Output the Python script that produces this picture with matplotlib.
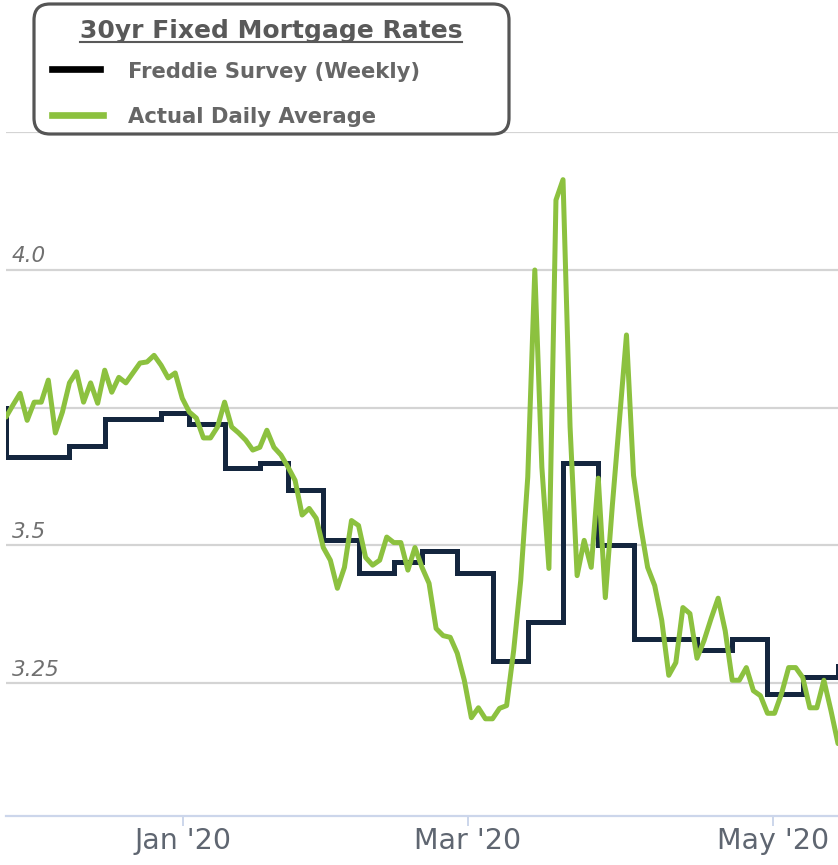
import matplotlib
matplotlib.use("Agg")
import matplotlib.pyplot as plt
from matplotlib.patches import FancyBboxPatch
from matplotlib.lines import Line2D
from matplotlib.transforms import IdentityTransform

# ---------------- data ----------------
# Actual daily average (one value per business day, Nov 2019 - mid May 2020)
daily_rate = [
    3.733, 3.755, 3.776, 3.727, 3.760, 3.760, 3.800, 3.704, 3.742, 3.795,
    3.815, 3.760, 3.795, 3.758, 3.818, 3.778, 3.805, 3.795, 3.813, 3.831,
    3.833, 3.845, 3.827, 3.804, 3.813, 3.767, 3.742, 3.731, 3.695, 3.695,
    3.715, 3.760, 3.715, 3.704, 3.691, 3.673, 3.678, 3.709, 3.678, 3.664,
    3.642, 3.618, 3.555, 3.567, 3.549, 3.496, 3.473, 3.422, 3.460, 3.545,
    3.536, 3.478, 3.464, 3.473, 3.515, 3.505, 3.505, 3.455, 3.496, 3.460,
    3.431, 3.349, 3.336, 3.333, 3.304, 3.255, 3.187, 3.205, 3.185, 3.185,
    3.204, 3.209, 3.309, 3.436, 3.624, 4.000, 3.642, 3.458, 4.127, 4.164,
    3.715, 3.445, 3.509, 3.460, 3.622, 3.405, 3.573, 3.727, 3.882, 3.627,
    3.536, 3.460, 3.427, 3.364, 3.264, 3.287, 3.387, 3.376, 3.295, 3.327,
    3.367, 3.404, 3.345, 3.255, 3.255, 3.278, 3.236, 3.227, 3.195, 3.195,
    3.231, 3.278, 3.278, 3.260, 3.205, 3.205, 3.255, 3.200, 3.140,
]

# Freddie Mac weekly survey: business-day index where each weekly value starts
freddie_idx = [-1, 0, 9, 14, 22, 26, 31, 36, 40, 45, 50, 55, 59, 64, 69, 74,
               79, 84, 89, 98, 103, 108, 113, 118]
freddie_rate = [3.75, 3.66, 3.68, 3.73, 3.74, 3.72, 3.64, 3.65, 3.60, 3.51,
                3.45, 3.47, 3.49, 3.45, 3.29, 3.36, 3.65, 3.50, 3.33, 3.31,
                3.33, 3.23, 3.26, 3.28]

tick_pos = [25.1, 65.5, 108.8]
tick_labels = ["Jan '20", "Mar '20", "May '20"]
grid_levels = [3.25, 3.5, 3.75, 4.0, 4.25]
label_levels = [4.0, 3.5, 3.25]
label_texts = ["4.0", "3.5", "3.25"]

title_text = "30yr Fixed Mortgage Rates"
series_names = ["Freddie Survey (Weekly)", "Actual Daily Average"]

GREEN = "#8cc13f"
NAVY = "#14263e"

# ---------------- figure ----------------
W, H = 838, 865
fig = plt.figure(figsize=(W / 100, H / 100), dpi=100)
ax_top_px, ax_bot_px, ax_left_px = 132.3, 816, 6
ax = fig.add_axes([ax_left_px / W, (H - ax_bot_px) / H,
                   (W - ax_left_px) / W, (ax_bot_px - ax_top_px) / H])

xs = list(range(len(daily_rate)))
ax.step(freddie_idx, freddie_rate, where="post", color=NAVY, lw=3.6,
        solid_joinstyle="miter", zorder=2)
ax.plot(xs, daily_rate, color=GREEN, lw=3.6, solid_joinstyle="round",
        solid_capstyle="round", zorder=3)

ax.set_xlim(0, len(daily_rate) - 1)
ax.set_ylim(3.0085, 4.25)

ax.set_yticks(grid_levels)
ax.yaxis.grid(True, color="#d4d4d4", lw=1.6)
ax.tick_params(axis="y", length=0, labelleft=False)
ax.set_axisbelow(True)

for s in ["top", "left", "right"]:
    ax.spines[s].set_visible(False)
ax.spines["bottom"].set_color("#ccd6eb")
ax.spines["bottom"].set_linewidth(1.6)

ax.set_xticks(tick_pos)
ax.set_xticklabels(tick_labels)
ax.tick_params(axis="x", length=10 * 0.72, width=1.4, color="#ccd6eb",
               labelsize=20.5, labelcolor="#5f6671", pad=1)

for v, lab in zip(label_levels, label_texts):
    ax.annotate(lab, xy=(0, v), xycoords=("axes fraction", "data"),
                xytext=(6 * 0.72, 7.5 * 0.72), textcoords="offset points",
                fontsize=15.5, style="italic", color="#707070",
                ha="left", va="baseline")

# ---------------- legend (drawn manually, pixel coords) ----------------
ident = IdentityTransform()
box = FancyBboxPatch((34, H - 134), 475, 130,
                     boxstyle="round,pad=0,rounding_size=16",
                     transform=ident, fc="white", ec="#555555", lw=2.3,
                     zorder=5)
fig.add_artist(box)

title = fig.text(271 / W, (H - 38) / H, title_text, ha="center",
                 va="baseline", fontsize=18, fontweight="bold",
                 color="#595959", zorder=6)

fig.add_artist(Line2D([52, 100], [H - 69, H - 69], transform=ident,
                      color="#000000", lw=4.8, zorder=6))
fig.add_artist(Line2D([52, 103], [H - 115, H - 115], transform=ident,
                      color=GREEN, lw=4.8, zorder=6))
fig.text(128 / W, (H - 78) / H, series_names[0], ha="left", va="baseline",
         fontsize=15.2, fontweight="bold", color="#666666", zorder=6)
fig.text(128 / W, (H - 123) / H, series_names[1], ha="left", va="baseline",
         fontsize=15.2, fontweight="bold", color="#666666", zorder=6)

fig.canvas.draw()
bb = title.get_window_extent()
fig.add_artist(Line2D([bb.x0, bb.x1], [bb.y0 + 1, bb.y0 + 1], transform=ident,
                      color="#595959", lw=1.5, zorder=6))

fig.savefig("out.png", dpi=100, facecolor="white")
